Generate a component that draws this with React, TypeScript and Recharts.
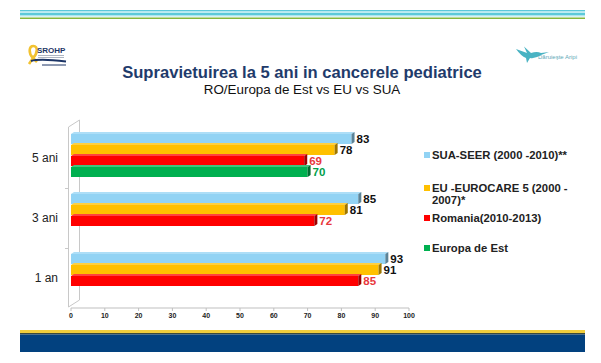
import React from 'react';
import { Bar, BarChart, LabelList, Legend, XAxis, YAxis } from 'recharts';

// survival at 5 years, paediatric cancers (%)
const categories = ['5 ani', '3 ani', '1 an'];
const seriesNames = [
  'SUA-SEER (2000 -2010)**',
  'EU -EUROCARE 5 (2000 - 2007)*',
  'Romania(2010-2013)',
  'Europa de Est',
];
const suaSeer = [83, 85, 93];
const euEurocare = [78, 81, 91];
const romania = [69, 72, 85];
const europaEst: (number | null)[] = [70, null, null];
const xTicks = [0, 10, 20, 30, 40, 50, 60, 70, 80, 90, 100];

const seriesKeys = ['sua', 'eu', 'ro', 'est'];
const colors = ['#92d3f4', '#ffc000', '#ff0000', '#00b050'];
const labelColors = ['#111111', '#111111', '#e8383d', '#00a04a'];
const legendTops = [3, 36, 66, 96];

const data = categories.map((cat, i) => ({
  cat,
  sua: suaSeer[i],
  eu: euEurocare[i],
  ro: romania[i],
  est: europaEst[i],
}));

const FONT = '"Liberation Sans", Arial, sans-serif';

const mix = (hex: string, f: number) => {
  const n = parseInt(hex.slice(1), 16);
  const ch = [(n >> 16) & 255, (n >> 8) & 255, n & 255].map((c) =>
    Math.round(f >= 1 ? c + (255 - c) * (f - 1) : c * f),
  );
  return `rgb(${ch.join(',')})`;
};

const Bar3D = (props: any) => {
  const { x, y, width, height, fill } = props;
  if (width == null || width <= 0) return null;
  const d = 3;
  const dy = 2;
  return (
    <g>
      <rect x={x} y={y} width={width} height={height} fill={fill} />
      <polygon
        points={`${x},${y} ${x + d},${y - dy} ${x + width + d},${y - dy} ${x + width},${y}`}
        fill={mix(fill, 1.25)}
      />
      <polygon
        points={`${x + width},${y} ${x + width + d},${y - dy} ${x + width + d},${y + height - dy} ${x + width},${y + height}`}
        fill={mix(fill, 0.62)}
      />
    </g>
  );
};

const LegendBox = ({ payload }: any) => {
  const items = [...(payload || [])].sort(
    (a: any, b: any) => seriesNames.indexOf(a.value) - seriesNames.indexOf(b.value),
  );
  return (
    <div style={{ position: 'relative', width: 170, height: 120, fontFamily: FONT }}>
      {items.map((p: any, i: number) => (
        <div
          key={p.value}
          style={{ position: 'absolute', top: legendTops[i], left: 0, display: 'flex', alignItems: 'flex-start' }}
        >
          <span
            style={{ width: 6, height: 6, marginTop: 3, background: p.color, display: 'inline-block', flex: 'none' }}
          />
          <span
            style={{ marginLeft: 2, width: 140, fontSize: 11.3, fontWeight: 700, lineHeight: '12px', color: '#222' }}
          >
            {p.value}
          </span>
        </div>
      ))}
    </div>
  );
};

const Decor = () => (
  <svg width={601} height={363} style={{ position: 'absolute', left: 0, top: 0 }}>
    {/* top stripes */}
    <rect x={20} y={10} width={565} height={1.5} fill="#5cc9d9" />
    <rect x={20} y={11.5} width={565} height={1.5} fill="#bdecf2" />
    <rect x={20} y={13} width={565} height={2} fill="#5cc9d9" />
    <rect x={20} y={15} width={565} height={1.5} fill="#aee6ee" />
    <rect x={20} y={17.5} width={565} height={1.5} fill="#86b83c" />
    {/* bottom banner */}
    <rect x={20} y={330} width={565} height={3} fill="#f0cd3c" />
    <rect x={20} y={333} width={565} height={1.5} fill="#3c4a3a" />
    <rect x={20} y={334.5} width={565} height={17.5} fill="#02417f" />
    {/* SROHP logo */}
    <path d="M33 58 C28 53 29 46 33.5 46 C38 46 38 53 33 58 L29 64 M33 58 L37 62" stroke="#f2c230" strokeWidth={2.6} fill="none" />
    <text x={37} y={53} fontSize={8} fontWeight={700} fill="#1c3566" fontFamily={FONT}>SROHP</text>
    <rect x={38} y={55} width={26} height={0.8} fill="#9aa3b3" />
    <rect x={38} y={57} width={26} height={0.8} fill="#9aa3b3" />
    <path d="M31 61 Q40 58.5 66 61.5" stroke="#1c3566" strokeWidth={2} fill="none" />
    <path d="M42 65 L66 65" stroke="#1c3566" strokeWidth={1} />
    {/* hummingbird logo */}
    <path
      d="M516 49 L527 53 L524 46.5 L531 53 Q537 51 541 53 L549 52 L541 55 Q535 59 530 58 L527 63 L526 58 Q521 56 516 49 Z"
      fill="#49b3c3"
    />
    <text x={538} y={58.5} fontSize={6} fill="#5fa9b8" fontFamily={FONT}>Dăruieşte Aripi</text>
    {/* titles */}
    <text x={302} y={78} textAnchor="middle" fontSize={16.6} fontWeight={700} fill="#1f3b6b" fontFamily={FONT}>
      Supravietuirea la 5 ani in cancerele pediatrice
    </text>
    <text x={302} y={94} textAnchor="middle" fontSize={13.4} fill="#111" fontFamily={FONT}>
      RO/Europa de Est vs EU vs SUA
    </text>
    {/* 3D back wall of the plot */}
    <g stroke="#c8c8c8" strokeWidth={1} fill="none">
      <path d="M68.5 307 L68.5 127 L79.5 120 L79.5 300 L68.5 307" />
      <path d="M65 188.5 L68.5 188.5 M65 248.5 L68.5 248.5" />
    </g>
  </svg>
);

export default function App() {
  return (
    <div style={{ position: 'absolute', left: 0, top: 0, width: 601, height: 363, background: '#fff' }}>
      <Decor />
      <div style={{ position: 'absolute', left: 0, top: 0 }}>
        <BarChart
          width={601}
          height={363}
          data={data}
          layout="vertical"
          margin={{ top: 125, right: 192, bottom: 35, left: 0 }}
          barSize={10}
          barGap={1}
        >
          <XAxis
            type="number"
            domain={[0, 100]}
            ticks={xTicks}
            height={20}
            tickSize={3}
            tickMargin={2}
            axisLine={{ stroke: '#bfbfbf' }}
            tickLine={{ stroke: '#bfbfbf' }}
            tick={{ fontSize: 7, fontWeight: 700, fill: '#222', fontFamily: FONT }}
            interval={0}
          />
          <YAxis
            type="category"
            dataKey="cat"
            width={71}
            axisLine={false}
            tickLine={false}
            tickMargin={7}
            padding={{ top: 0, bottom: 3 }}
            tick={{ fontSize: 12, fill: '#222', fontFamily: FONT, dy: 3 }}
          />
          <Legend
            layout="horizontal"
            verticalAlign="middle"
            align="center"
            itemSorter={null}
            wrapperStyle={{ left: 424, top: 146, width: 170 }}
            content={<LegendBox />}
          />
          {seriesKeys.map((key, i) => (
            <Bar
              key={key}
              dataKey={key}
              name={seriesNames[i]}
              fill={colors[i]}
              shape={<Bar3D />}
              isAnimationActive={false}
            >
              <LabelList
                dataKey={key}
                position="right"
                offset={5}
                formatter={(v: any) => (v == null ? '' : v)}
                style={{ fontSize: 11.5, fontWeight: 700, fill: labelColors[i], fontFamily: FONT }}
              />
            </Bar>
          ))}
        </BarChart>
      </div>
    </div>
  );
}
